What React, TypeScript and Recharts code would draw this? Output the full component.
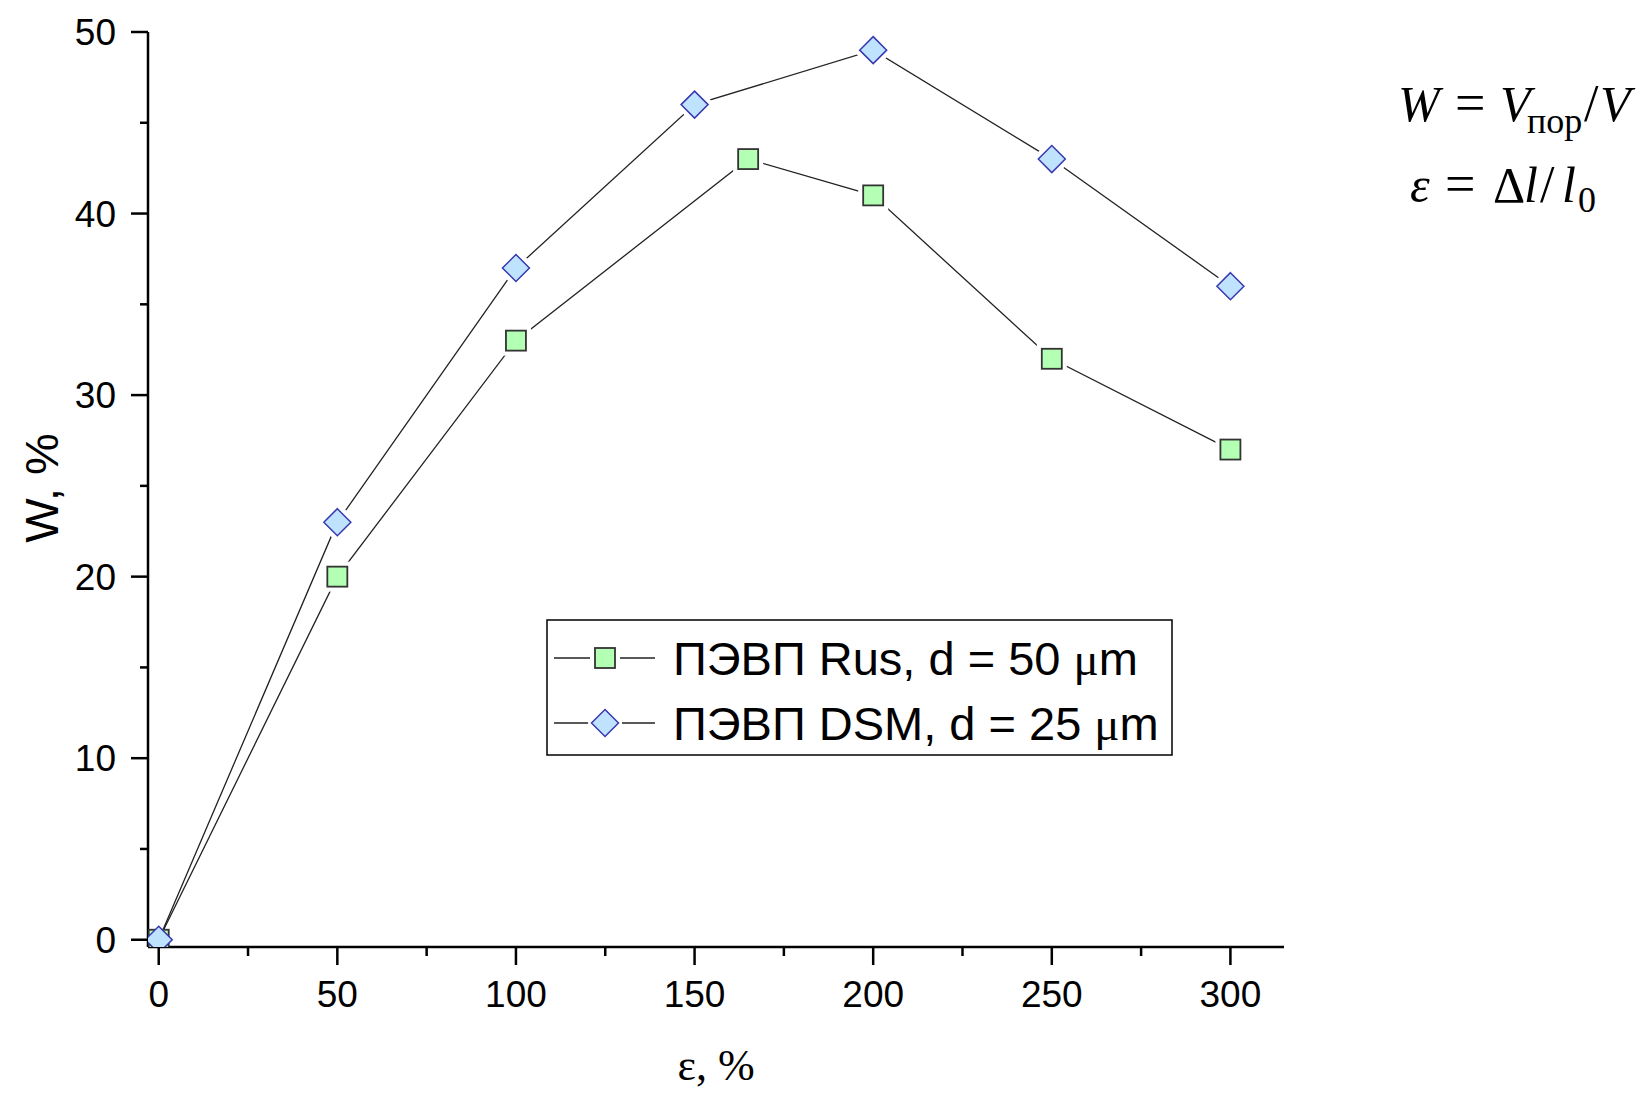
import React from "react";
import { LineChart, Line, XAxis, YAxis } from "recharts";

// strain, % and porosity W, %
const rusX = [0, 50, 100, 165, 200, 250, 300];
const rusY = [0, 20, 33, 43, 41, 32, 27];
const dsmX = [0, 50, 100, 150, 200, 250, 300];
const dsmY = [0, 23, 37, 46, 49, 43, 36];

const xTicks = [0, 25, 50, 75, 100, 125, 150, 175, 200, 225, 250, 275, 300];
const yTicks = [0, 5, 10, 15, 20, 25, 30, 35, 40, 45, 50];

const rusLabel = "ПЭВП Rus, d = 50 ";
const dsmLabel = "ПЭВП DSM, d = 25 ";

const rusData = rusX.map((x, i) => ({ x, y: rusY[i] }));
const dsmData = dsmX.map((x, i) => ({ x, y: dsmY[i] }));

const SANS = "'Liberation Sans', Arial, sans-serif";
const SERIF = "'Liberation Serif', 'Times New Roman', serif";

const SQ_FILL = "#b3ffb3";
const SQ_STROKE = "#333333";
const DM_FILL = "#bfe3ff";
const DM_STROKE = "#3838b0";

function Square({ cx, cy, halo }: { cx: number; cy: number; halo: boolean }) {
  const s = 20;
  return (
    <g>
      {halo && (
        <rect x={cx - s / 2} y={cy - s / 2} width={s} height={s} fill="#fff" stroke="#fff" strokeWidth={10} />
      )}
      <rect x={cx - s / 2} y={cy - s / 2} width={s} height={s} fill={SQ_FILL} stroke={SQ_STROKE} strokeWidth={1.8} />
    </g>
  );
}

function Diamond({ cx, cy, halo }: { cx: number; cy: number; halo: boolean }) {
  const r = 13.5;
  const pts = `${cx},${cy - r} ${cx + r},${cy} ${cx},${cy + r} ${cx - r},${cy}`;
  return (
    <g>
      {halo && <polygon points={pts} fill="#fff" stroke="#fff" strokeWidth={10} />}
      <polygon points={pts} fill={DM_FILL} stroke={DM_STROKE} strokeWidth={1.5} />
    </g>
  );
}

const renderSquare = (p: any) => (
  <Square key={`sq-${p.index}`} cx={p.cx} cy={p.cy} halo={p.index !== 0} />
);
const renderDiamond = (p: any) => (
  <Diamond key={`dm-${p.index}`} cx={p.cx} cy={p.cy} halo={p.index !== 0} />
);

function XTick({ x, y, payload }: any) {
  const major = payload.value % 50 === 0;
  return (
    <g>
      <line x1={x} x2={x} y1={y} y2={y + (major ? 18 : 9)} stroke="#000" strokeWidth={2.5} />
      {major && (
        <text x={x} y={y + 60} textAnchor="middle" fontSize={37} fontFamily={SANS} fill="#000">
          {payload.value}
        </text>
      )}
    </g>
  );
}

function YTick({ x, y, payload }: any) {
  const major = payload.value % 10 === 0;
  return (
    <g>
      <line x1={x} x2={x - (major ? 17 : 8)} y1={y} y2={y} stroke="#000" strokeWidth={2.5} />
      {major && (
        <text x={x - 32} y={y + 13} textAnchor="end" fontSize={37} fontFamily={SANS} fill="#000">
          {payload.value}
        </text>
      )}
    </g>
  );
}

export default function App() {
  return (
    <div style={{ position: "relative", width: 1644, height: 1093, background: "#fff" }}>
      <style>{`body{margin:0;background:#fff}`}</style>
      <LineChart width={1644} height={1093} margin={{ top: 32, right: 360, left: 0, bottom: 0 }}>
        <XAxis
          type="number"
          dataKey="x"
          domain={[-3, 315]}
          ticks={xTicks}
          interval={0}
          allowDataOverflow
          height={146}
          tickSize={0}
          tickMargin={0}
          tickLine={false}
          tick={<XTick />}
          axisLine={{ stroke: "#000", strokeWidth: 2.5 }}
        />
        <YAxis
          type="number"
          dataKey="y"
          domain={[-0.4, 50]}
          ticks={yTicks}
          interval={0}
          allowDataOverflow
          width={148}
          tickSize={0}
          tickMargin={0}
          tickLine={false}
          tick={<YTick />}
          axisLine={{ stroke: "#000", strokeWidth: 2.5 }}
        />
        <Line
          data={rusData}
          dataKey="y"
          type="linear"
          stroke="#222"
          strokeWidth={1.3}
          dot={renderSquare}
          activeDot={false}
          isAnimationActive={false}
        />
        <Line
          data={dsmData}
          dataKey="y"
          type="linear"
          stroke="#222"
          strokeWidth={1.3}
          dot={renderDiamond}
          activeDot={false}
          isAnimationActive={false}
        />
      </LineChart>

      <svg
        width={1644}
        height={1093}
        style={{ position: "absolute", left: 0, top: 0, pointerEvents: "none" }}
      >
        {/* axis titles */}
        <text
          x={58}
          y={488}
          transform="rotate(-90 58 488)"
          textAnchor="middle"
          fontSize={47}
          fontFamily={SANS}
          fill="#000"
        >
          W, %
        </text>
        <text x={716} y={1080} textAnchor="middle" fontSize={44} fontFamily={SERIF} fill="#000">
          ε, %
        </text>

        {/* legend */}
        <rect x={547} y={620} width={625} height={135} fill="#fff" stroke="#000" strokeWidth={1.5} />
        <line x1={554} x2={590} y1={658} y2={658} stroke="#222" strokeWidth={1.3} />
        <line x1={620} x2={655} y1={658} y2={658} stroke="#222" strokeWidth={1.3} />
        <Square cx={605} cy={658} halo={false} />
        <line x1={554} x2={588} y1={723} y2={723} stroke="#222" strokeWidth={1.3} />
        <line x1={622} x2={655} y1={723} y2={723} stroke="#222" strokeWidth={1.3} />
        <Diamond cx={605} cy={723} halo={false} />
        <text x={673} y={675} fontSize={47} fontFamily={SANS} fill="#000" style={{ whiteSpace: "pre" }}>
          <tspan>{rusLabel}</tspan>
          <tspan fontFamily={SERIF}>μ</tspan>
          <tspan>m</tspan>
        </text>
        <text x={673} y={740} fontSize={47} fontFamily={SANS} fill="#000" style={{ whiteSpace: "pre" }}>
          <tspan>{dsmLabel}</tspan>
          <tspan fontFamily={SERIF}>μ</tspan>
          <tspan>m</tspan>
        </text>

        {/* formulas */}
        <g fontFamily={SERIF} fill="#000">
          <text x={1398} y={121} fontSize={50} fontStyle="italic">W</text>
          <text x={1455} y={121} fontSize={54}>=</text>
          <text x={1500} y={121} fontSize={50} fontStyle="italic">V</text>
          <text x={1527} y={133} fontSize={36}>пор</text>
          <text x={1584} y={121} fontSize={52}>/</text>
          <text x={1600} y={121} fontSize={50} fontStyle="italic">V</text>

          <text x={1410} y={202} fontSize={50} fontStyle="italic">ε</text>
          <text x={1445} y={202} fontSize={54}>=</text>
          <text x={1493} y={202} fontSize={50}>Δ</text>
          <text x={1524} y={202} fontSize={50} fontStyle="italic">l</text>
          <text x={1540} y={202} fontSize={52}>/</text>
          <text x={1562} y={202} fontSize={50} fontStyle="italic">l</text>
          <text x={1578} y={212} fontSize={36}>0</text>
        </g>
      </svg>
    </div>
  );
}
